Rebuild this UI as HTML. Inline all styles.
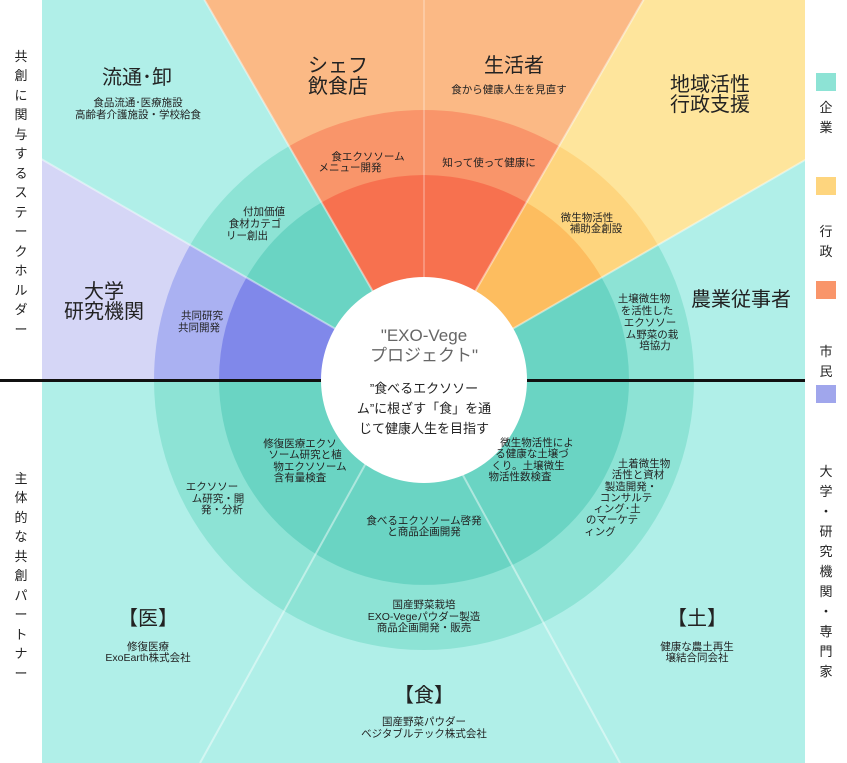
<!DOCTYPE html>
<html><head><meta charset="utf-8"><style>
html,body{margin:0;padding:0;background:#fff}
svg{display:block}
text{font-family:"Liberation Sans","Noto Sans CJK JP",sans-serif;fill:#222}
.s{font-size:10.5px}
.b{font-size:20px}
.v{font-size:13px;fill:#555}
</style></head><body>
<svg width="847" height="763" viewBox="0 0 847 763" xmlns="http://www.w3.org/2000/svg">
<defs><clipPath id="c"><rect x="42" y="0" width="763" height="763"/></clipPath></defs>
<g clip-path="url(#c)">
<rect x="42" y="0" width="763" height="763" fill="#b0efe8"/>
<path d="M424 380 L1424 380 A1000 1000 0 0 0 1290 -120 Z" fill="#b0efe8"/>
<path d="M424 380 L1290 -120 A1000 1000 0 0 0 924 -486 Z" fill="#fee59c"/>
<path d="M424 380 L924 -486 A1000 1000 0 0 0 -76 -486 Z" fill="#fbb985"/>
<path d="M424 380 L-442 -120 A1000 1000 0 0 0 -576 380 Z" fill="#d5d6f6"/>
<!-- outer ring -->
<path d="M154 380 A270 270 0 0 0 694 380 Z" fill="#8de3d5"/>
<path d="M424 380 L694 380 A270 270 0 0 0 657.8 245 Z" fill="#8de3d5"/>
<path d="M424 380 L657.8 245 A270 270 0 0 0 559 146.2 Z" fill="#fed57e"/>
<path d="M424 380 L559 146.2 A270 270 0 0 0 289 146.2 Z" fill="#f9956a"/>
<path d="M424 380 L289 146.2 A270 270 0 0 0 190.2 245 Z" fill="#8de3d5"/>
<path d="M424 380 L190.2 245 A270 270 0 0 0 154 380 Z" fill="#aab1f2"/>
<!-- inner ring -->
<path d="M219 380 A205 205 0 0 0 629 380 Z" fill="#6ad4c3"/>
<path d="M424 380 L629 380 A205 205 0 0 0 601.5 277.5 Z" fill="#6ad4c3"/>
<path d="M424 380 L601.5 277.5 A205 205 0 0 0 526.5 202.5 Z" fill="#fdbd5f"/>
<path d="M424 380 L526.5 202.5 A205 205 0 0 0 321.5 202.5 Z" fill="#f7714f"/>
<path d="M424 380 L321.5 202.5 A205 205 0 0 0 246.5 277.5 Z" fill="#6ad4c3"/>
<path d="M424 380 L246.5 277.5 A205 205 0 0 0 219 380 Z" fill="#8088ea"/>
<!-- faint lines -->
<g stroke="#ffffff" stroke-opacity="0.45" stroke-width="2">
<line x1="424" y1="380" x2="1290" y2="-120"/>
<line x1="424" y1="380" x2="924" y2="-486"/>
<line x1="424" y1="380" x2="424" y2="0" stroke-opacity="0.25"/>
<line x1="424" y1="380" x2="-76" y2="-486"/>
<line x1="424" y1="380" x2="-442" y2="-120"/>
<line x1="412" y1="380" x2="200" y2="763"/>
<line x1="411" y1="380" x2="620" y2="763"/>
</g>
</g>
<rect x="0" y="379" width="805" height="3" fill="#111"/>
<circle cx="424" cy="380" r="103" fill="#fff"/>

<!-- legend -->
<rect x="816" y="73" width="20" height="18" fill="#8de3d5"/>
<rect x="816" y="177" width="20" height="18" fill="#fed57e"/>
<rect x="816" y="281" width="20" height="18" fill="#f9956a"/>
<rect x="816" y="385" width="20" height="18" fill="#a0a6ec"/>
<g class="v" text-anchor="middle">
<text x="826" y="112">企</text><text x="826" y="132">業</text>
<text x="826" y="236">行</text><text x="826" y="256">政</text>
<text x="826" y="356">市</text><text x="826" y="376">民</text>
<text x="826" y="476">大</text><text x="826" y="496">学</text><text x="826" y="516">・</text><text x="826" y="536">研</text><text x="826" y="556">究</text><text x="826" y="576">機</text><text x="826" y="596">関</text><text x="826" y="616">・</text><text x="826" y="636">専</text><text x="826" y="656">門</text><text x="826" y="676">家</text>
</g>
<g class="v" text-anchor="middle">
<text x="21" y="61">共</text><text x="21" y="80">創</text><text x="21" y="100">に</text><text x="21" y="119">関</text><text x="21" y="139">与</text><text x="21" y="158">す</text><text x="21" y="178">る</text><text x="21" y="197">ス</text><text x="21" y="217">テ</text><text x="21" y="236">ー</text><text x="21" y="256">ク</text><text x="21" y="275">ホ</text><text x="21" y="295">ル</text><text x="21" y="314">ダ</text><text x="21" y="334">ー</text>
<text x="21" y="483">主</text><text x="21" y="502">体</text><text x="21" y="522">的</text><text x="21" y="541">な</text><text x="21" y="561">共</text><text x="21" y="580">創</text><text x="21" y="600">パ</text><text x="21" y="619">ー</text><text x="21" y="639">ト</text><text x="21" y="658">ナ</text><text x="21" y="678">ー</text>
</g>

<g text-anchor="middle">
<text class="b" x="137" y="84" font-size="19">流通･卸</text>
<text class="s" x="138" y="106">食品流通･医療施設</text>
<text class="s" x="138" y="118">高齢者介護施設・学校給食</text>
<text class="b" x="338" y="72">シェフ</text>
<text class="b" x="338" y="93">飲食店</text>
<text class="b" x="514" y="72">生活者</text>
<text class="s" x="509" y="93">食から健康人生を見直す</text>
<text class="b" x="710" y="91">地域活性</text>
<text class="b" x="710" y="111">行政支援</text>
<text class="b" x="741" y="306" font-size="19">農業従事者</text>
<text class="b" x="104" y="298">大学</text>
<text class="b" x="104" y="318">研究機関</text>

<text class="s" x="368" y="160">食エクソソーム</text>
<text class="s" x="350" y="171">メニュー開発</text>
<text class="s" x="489" y="166">知って使って健康に</text>
<text class="s" x="264" y="215">付加価値</text>
<text class="s" x="255" y="227">食材カテゴ</text>
<text class="s" x="247" y="239">リー創出</text>
<text class="s" x="587" y="221">微生物活性</text>
<text class="s" x="596" y="232">補助金創設</text>
<text class="s" x="202" y="319">共同研究</text>
<text class="s" x="199" y="331">共同開発</text>
<text class="s" x="644" y="302">土壌微生物</text>
<text class="s" x="647" y="314">を活性した</text>
<text class="s" x="650" y="326">エクソソー</text>
<text class="s" x="652" y="338">ム野菜の栽</text>
<text class="s" x="655" y="349">培協力</text>

<text x="424" y="341" font-size="17" style="fill:#666">"EXO-Vege</text>
<text x="424" y="361" font-size="17" style="fill:#666">プロジェクト"</text>
<text x="424" y="393" font-size="13">”食べるエクソソー</text>
<text x="424" y="413" font-size="13">ム”に根ざす「食」を通</text>
<text x="424" y="433" font-size="13">じて健康人生を目指す</text>

<text class="s" x="300" y="447">修復医療エクソ</text>
<text class="s" x="305" y="458">ソーム研究と植</text>
<text class="s" x="310" y="470">物エクソソーム</text>
<text class="s" x="300" y="481">含有量検査</text>
<text class="s" x="212" y="490">エクソソー</text>
<text class="s" x="218" y="502">ム研究・開</text>
<text class="s" x="222" y="513">発・分析</text>
<text class="s" x="424" y="524">食べるエクソソーム啓発</text>
<text class="s" x="424" y="535">と商品企画開発</text>
<text class="s" x="537" y="446">微生物活性によ</text>
<text class="s" x="532" y="457">る健康な土壌づ</text>
<text class="s" x="528" y="469">くり。土壌微生</text>
<text class="s" x="520" y="480">物活性数検査</text>
<text class="s" x="644" y="467">土着微生物</text>
<text class="s" x="638" y="478">活性と資材</text>
<text class="s" x="631" y="490">製造開発・</text>
<text class="s" x="626" y="501">コンサルテ</text>
<text class="s" x="617" y="512">ィング･土</text>
<text class="s" x="612" y="523">のマーケテ</text>
<text class="s" x="600" y="535">ィング</text>
<text class="s" x="424" y="608">国産野菜栽培</text>
<text class="s" x="424" y="620">EXO-Vegeパウダー製造</text>
<text class="s" x="424" y="631">商品企画開発・販売</text>

<text class="b" x="148" y="625" font-size="19">【医】</text>
<text class="s" x="148" y="650">修復医療</text>
<text class="s" x="148" y="661">ExoEarth株式会社</text>
<text class="b" x="697" y="625" font-size="19">【土】</text>
<text class="s" x="697" y="650">健康な農土再生</text>
<text class="s" x="697" y="661">壌結合同会社</text>
<text class="b" x="424" y="702" font-size="19">【食】</text>
<text class="s" x="424" y="725">国産野菜パウダー</text>
<text class="s" x="424" y="737">ベジタブルテック株式会社</text>
</g>
</svg>
</body></html>
